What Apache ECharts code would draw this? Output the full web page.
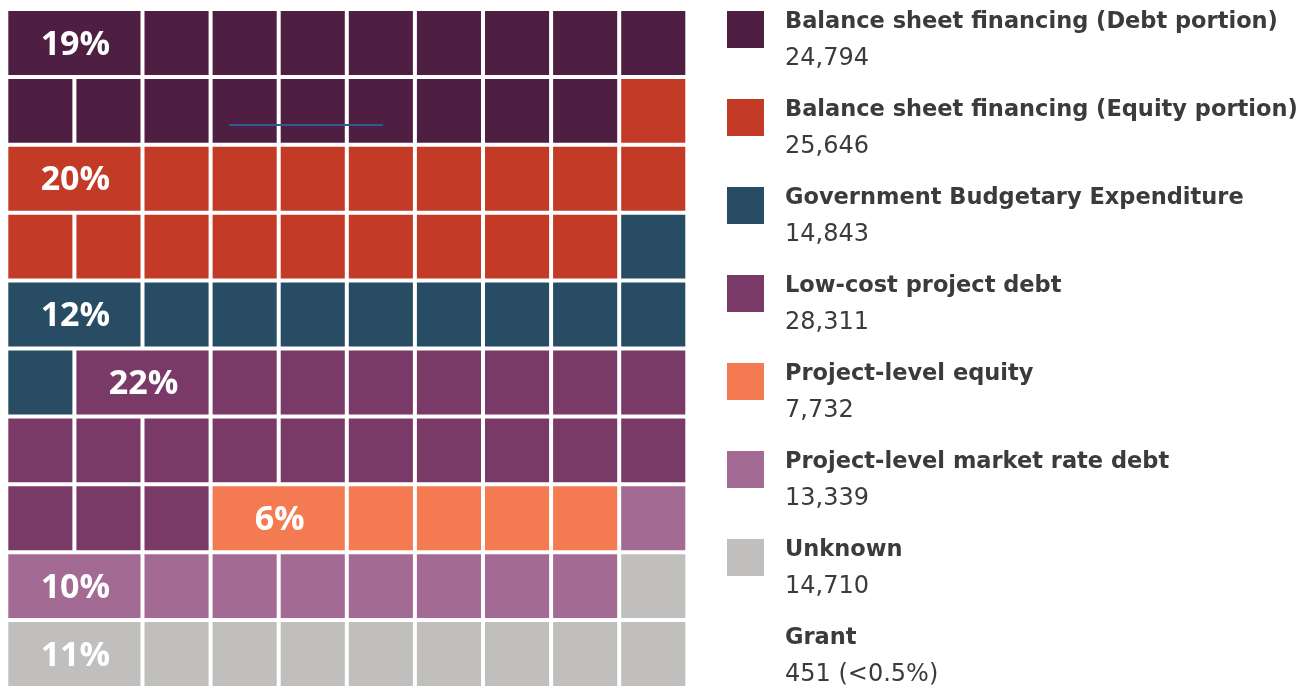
<!DOCTYPE html>
<html>
<head>
<meta charset="utf-8">
<script src="https://cdn.jsdelivr.net/npm/echarts@6/dist/echarts.min.js"></script>
<style>
html,body{margin:0;padding:0;background:#fff;}
#main{width:1309px;height:690px;}
</style>
</head>
<body>
<div id="main"></div>
<script>
// categories + values (waffle: 1 square = 1%)
var categories = ['Balance sheet financing (Debt portion)', 'Balance sheet financing (Equity portion)',
    'Government Budgetary Expenditure', 'Low-cost project debt', 'Project-level equity',
    'Project-level market rate debt', 'Unknown', 'Grant'];
var amounts = ['24,794', '25,646', '14,843', '28,311', '7,732', '13,339', '14,710', '451 (<0.5%)'];
var squares = [19, 20, 12, 22, 6, 10, 11, 0];
var colors = ['#4e1f43', '#c33a27', '#274c63', '#7a3a68', '#f47b51', '#a36a93', '#c0bfbd', null];

var COLS = 10;

// fill the grid row by row
var owner = [];
for (var c = 0; c < squares.length; c++) {
    for (var k = 0; k < squares[c]; k++) owner.push(c);
}

// label sits on the first pair of side by side squares of a category, the pair is drawn merged
var labelAt = {};
for (var c = 0; c < squares.length; c++) {
    if (!squares[c]) continue;
    for (var i = 0; i < owner.length - 1; i++) {
        if (owner[i] == c && owner[i + 1] == c && (i % COLS) < COLS - 1) {
            labelAt[i] = c;
            break;
        }
    }
}

var cells = [];
var cellText = [];
for (var i = 0; i < owner.length; i++) {
    var col = i % COLS, row = Math.floor(i / COLS);
    if (labelAt[i] !== undefined) {
        cells.push([col, row, owner[i], 2]);
        cellText.push(squares[owner[i]] + '%');
        i++;
    } else {
        cells.push([col, row, owner[i], 1]);
        cellText.push('');
    }
}

function renderCell(params, api) {
    var p = api.coord([api.value(0), api.value(1)]);
    var s = api.size([1, 1]);
    var span = api.value(3);
    var txt = cellText[params.dataIndex];
    var el = {
        type: 'rect',
        shape: {x: p[0], y: p[1], width: s[0] * span - 4, height: s[1] - 4},
        style: {fill: colors[api.value(2)]}
    };
    if (txt) {
        el.textContent = {
            style: {text: txt, fill: '#fff', fontSize: 34, fontWeight: 'bold', fontFamily: 'Open Sans'}
        };
        el.textConfig = {position: 'inside', offset: [1, 2]};
    }
    return el;
}

// legend on the right
var legendEls = [];
for (var c = 0; c < categories.length; c++) {
    var rowY = 11 + 88 * c;
    if (colors[c]) {
        legendEls.push({type: 'rect', x: 727, y: rowY, shape: {x: 0, y: 0, width: 37, height: 37}, style: {fill: colors[c]}});
    }
    legendEls.push({type: 'text', x: 785, y: rowY + 11, style: {text: categories[c], fill: '#3b3b3b',
        fontSize: 22.5, fontWeight: 'bold', fontFamily: 'DejaVu Sans', verticalAlign: 'middle'}});
    legendEls.push({type: 'text', x: 785, y: rowY + 48, style: {text: amounts[c], fill: '#3b3b3b',
        fontSize: 24, fontFamily: 'DejaVu Sans', verticalAlign: 'middle'}});
}
// stray line that is in the source image
legendEls.push({type: 'line', shape: {x1: 229, y1: 125, x2: 383, y2: 125}, style: {stroke: '#2e5f8c', lineWidth: 2}, z: 10});

var myChart = echarts.init(document.getElementById('main'));
myChart.setOption({
    animation: false,
    grid: {left: 8.3, top: 11, width: 681, height: 681},
    xAxis: {type: 'value', min: 0, max: 10, show: false},
    yAxis: {type: 'value', min: 0, max: 10, inverse: true, show: false},
    series: [{
        type: 'custom',
        renderItem: renderCell,
        data: cells,
        clip: false
    }],
    graphic: legendEls
});
</script>
</body>
</html>
